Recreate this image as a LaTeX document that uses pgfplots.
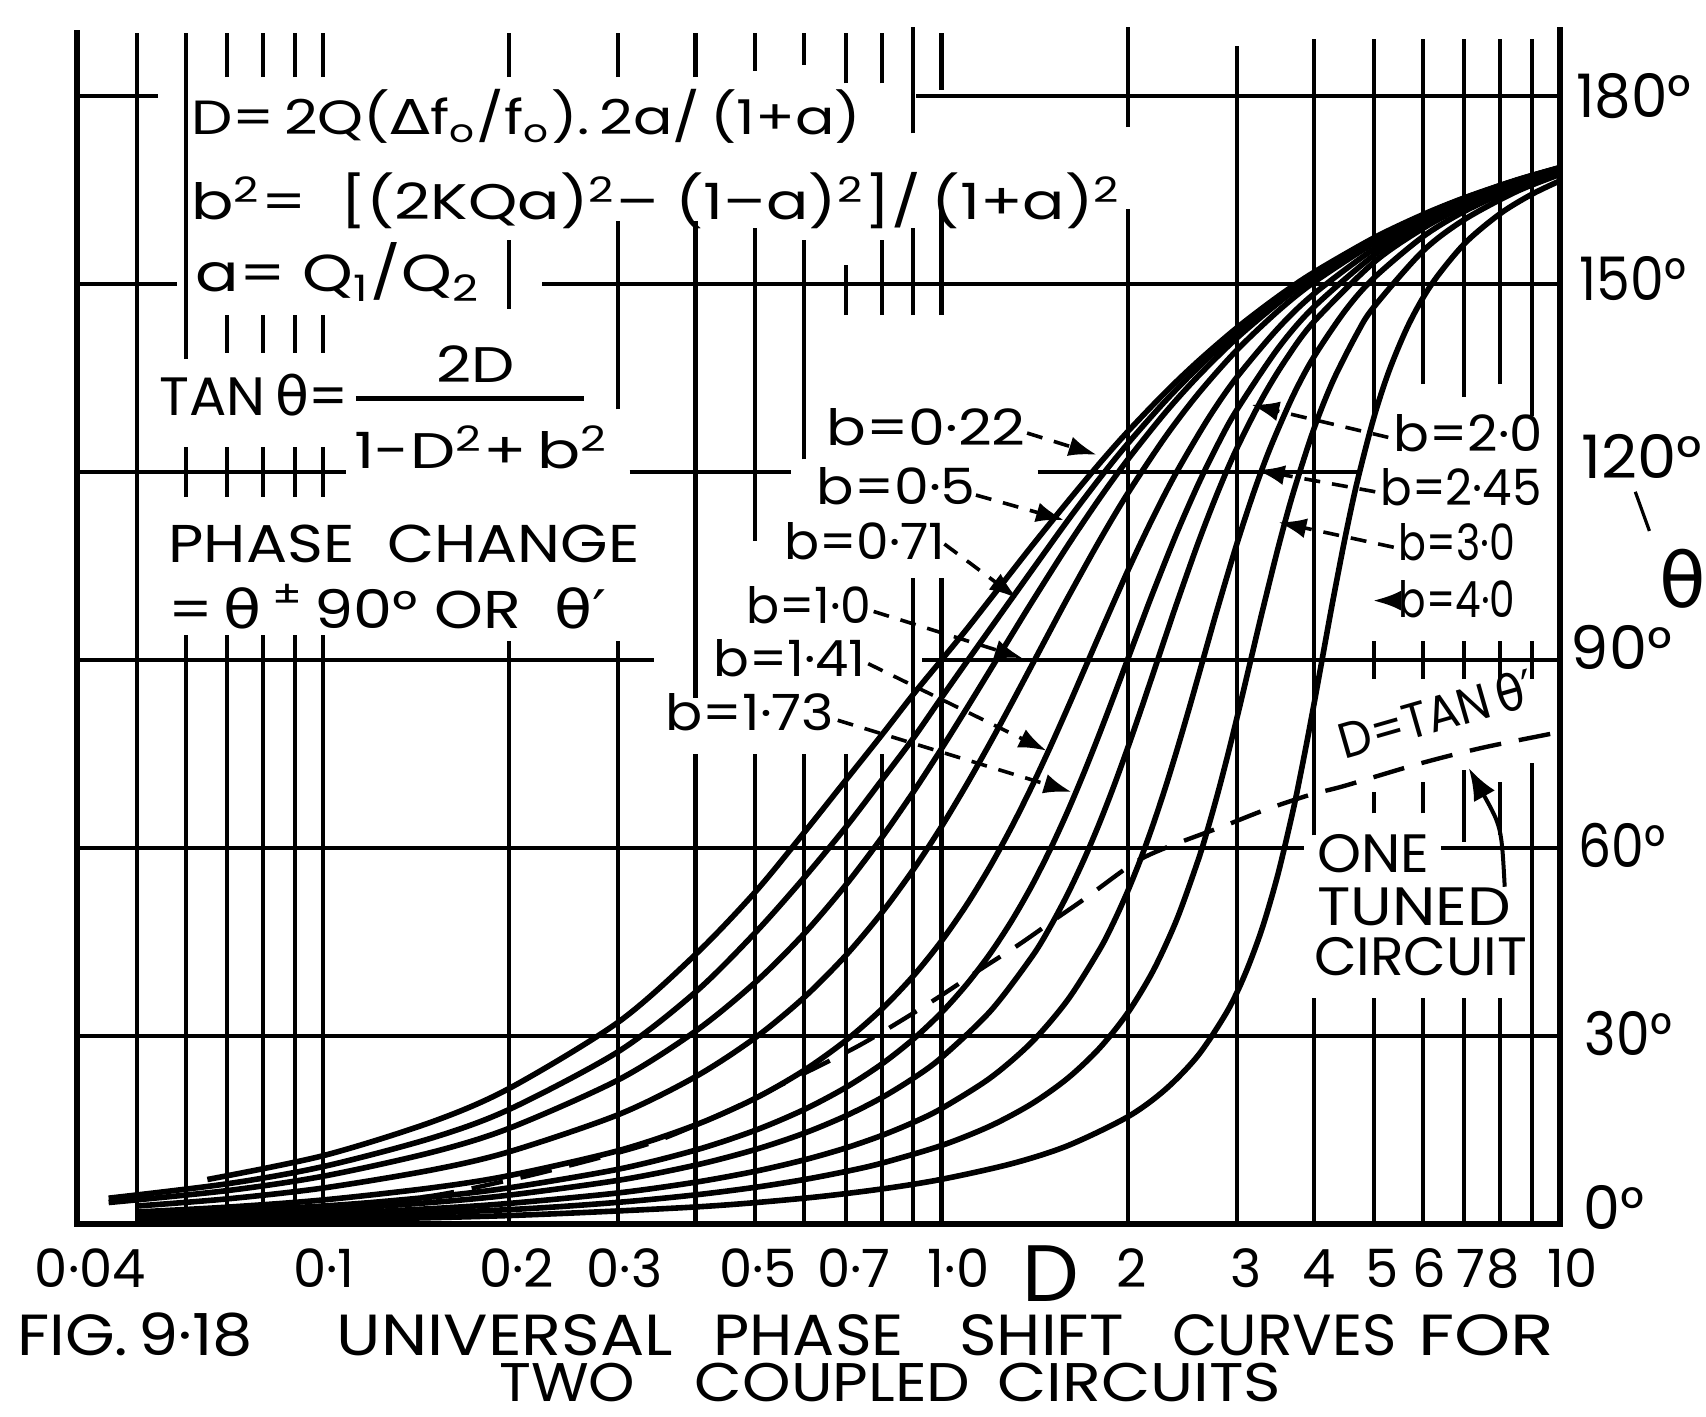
\documentclass[border=0pt]{standalone}
\usepackage{graphicx}
\usepackage{fontspec}
\setmainfont{Poppins}
\newfontfamily\gr{DejaVu Sans}
\usepackage{pgfplots}
\pgfplotsset{compat=1.18}
\usetikzlibrary{arrows.meta}

\newlength\pxu \setlength\pxu{0.272pt}
\newcommand\thet{{\gr θ}}
% text stretched to a width given in reference pixels
\newcommand\TW[6][base west]{\node[inner sep=0pt,anchor=#1] at (#2,#3) {\resizebox{#4\pxu}{\height}{\fontsize{#5}{#5}\selectfont #6}};}
% text at natural width, centred
\newcommand\TN[4]{\node[inner sep=0pt,anchor=base] at (#1,#2) {\fontsize{#3}{#3}\selectfont #4};}
% grid pieces
\newcommand\vl[3]{\draw[grd] (axis cs:#1,#2) -- (axis cs:#1,#3);}
\newcommand\hl[3]{\draw[grd] (axis cs:#2,#1) -- (axis cs:#3,#1);}

\begin{document}
\begin{tikzpicture}[
  grd/.style={line width=1.05pt},
  axl/.style={line width=1.6pt},
  cv/.style={black, line width=1.4pt, smooth, mark=none},
  px/.style={x=0.272pt, y=-0.272pt, xshift=-19.25pt, yshift=306pt},
  lead/.style={line width=0.9pt, dash pattern=on 4pt off 3pt, -{Latex[length=7pt,width=5pt]}}]

\begin{axis}[at={(0pt,0pt)}, anchor=south west, scale only axis,
  width=370.75pt, height=297.7pt, hide axis, clip=false,
  xmode=log, xmin=0.04, xmax=10, ymin=0, ymax=190]

% frame
\draw[axl] (axis cs:0.04,190.5) -- (axis cs:0.04,0) -- (axis cs:10,0) -- (axis cs:10,191);

% horizontal grid
\hl{30}{0.04}{10}
\hl{60}{0.04}{3.86} \hl{60}{6.42}{10}
\hl{90}{0.04}{0.343} \hl{90}{0.93}{10}
\hl{120}{0.04}{0.109} \hl{120}{0.313}{0.572} \hl{120}{1.43}{4.77}
\hl{150}{0.04}{0.058} \hl{150}{0.226}{10}
\hl{180}{0.04}{0.054} \hl{180}{0.91}{10}

% vertical grid
\vl{0.05}{0}{190}
\vl{0.06}{0}{94} \vl{0.06}{116}{124} \vl{0.06}{138}{190}
\vl{0.07}{0}{94} \vl{0.07}{116}{124} \vl{0.07}{139}{145} \vl{0.07}{183}{190}
\vl{0.08}{0}{94} \vl{0.08}{116}{124} \vl{0.08}{139}{145} \vl{0.08}{183}{190}
\vl{0.09}{0}{94} \vl{0.09}{116}{124} \vl{0.09}{139}{145} \vl{0.09}{183}{190}
\vl{0.1}{0}{94} \vl{0.1}{116}{124} \vl{0.1}{139}{145} \vl{0.1}{183}{190}
\vl{0.2}{0}{93} \vl{0.2}{146}{157} \vl{0.2}{183}{190}
\vl{0.3}{0}{93} \vl{0.3}{130}{160} \vl{0.3}{183}{190}
\vl{0.4}{0}{75} \vl{0.4}{84}{160} \vl{0.4}{183}{190}
\vl{0.5}{0}{75} \vl{0.5}{109}{159} \vl{0.5}{184}{190}
\vl{0.6}{0}{75} \vl{0.6}{122}{157} \vl{0.6}{185}{190}
\vl{0.7}{0}{75} \vl{0.7}{145}{153} \vl{0.7}{182}{190}
\vl{0.8}{0}{75} \vl{0.8}{145}{157} \vl{0.8}{182}{190}
\vl{0.9}{0}{103} \vl{0.9}{145}{159} \vl{0.9}{174}{191}
\vl{1}{0}{103} \vl{1}{145}{162} \vl{1}{181}{190}
\vl{2}{0}{162} \vl{2}{175}{191}
\vl{3}{0}{188}
\vl{4}{0}{36} \vl{4}{62}{189}
\vl{5}{0}{36} \vl{5}{65.5}{69} \vl{5}{87}{93} \vl{5}{129}{189}
\vl{6}{0}{36} \vl{6}{65.5}{70.5} \vl{6}{87}{93} \vl{6}{134}{189}
\vl{7}{0}{36} \vl{7}{61}{72.5} \vl{7}{87}{93} \vl{7}{132}{189}
\vl{8}{0}{36} \vl{8}{62}{70.5} \vl{8}{87}{93} \vl{8}{134}{189}
\vl{9}{0}{73.5} \vl{9}{87}{93} \vl{9}{129}{189}

% b = 0.22
\addplot[cv] coordinates {(0.065,7.10) (0.1,10.90) (0.15,16.30) (0.2,21.64) (0.3,32.2) (0.4,43.0) (0.5,53.0) (0.6,62.5) (0.7,70.8) (0.8,78.0) (0.9,84.5) (1.0,90.0) (1.1,95.0) (1.25,102.0) (1.4,108.2) (1.6,115.28) (1.8,121.33) (2.0,126.43) (2.3,132.68) (2.6,137.68) (3.0,142.96) (3.5,147.99) (4.0,151.85) (5.0,157.34) (6.0,161.05) (7.0,163.72) (8.5,166.57) (10,168.57)};
% b = 0.5
\addplot[cv] coordinates {(0.045,4.12) (0.07,6.42) (0.1,9.16) (0.15,13.73) (0.2,18.29) (0.3,27.5) (0.4,37.0) (0.5,46.5) (0.6,55.3) (0.7,63.3) (0.8,70.8) (0.9,77.5) (1.0,84.0) (1.1,89.8) (1.25,97.5) (1.4,104.3) (1.6,112.26) (1.8,118.93) (2.0,124.51) (2.3,131.30) (2.6,136.66) (3.0,142.25) (3.5,147.53) (4.0,151.53) (5.0,157.17) (6.0,160.95) (7.0,163.66) (8.5,166.53) (10,168.55)};
% b = 0.71
\addplot[cv] coordinates {(0.045,3.43) (0.07,5.33) (0.1,7.62) (0.15,11.45) (0.2,15.28) (0.3,22.99) (0.4,30.76) (0.5,38.57) (0.6,46.36) (0.7,54.08) (0.8,61.63) (0.9,68.91) (1.0,75.85) (1.1,82.39) (1.2,88.47) (1.3,94.09) (1.4,99.25) (1.6,108.26) (1.8,115.74) (2.0,121.96) (2.3,129.46) (2.6,135.30) (3.0,141.33) (3.5,146.92) (4.0,151.11) (5.0,156.94) (6.0,160.82) (7.0,163.58) (8.5,166.49) (10,168.52)};
% b = 1.0
\addplot[cv] coordinates {(0.05,2.87) (0.07,4.01) (0.1,5.74) (0.15,8.63) (0.2,11.53) (0.3,17.44) (0.4,23.50) (0.5,29.74) (0.6,36.19) (0.7,42.84) (0.8,49.64) (0.9,56.53) (1.0,63.43) (1.1,70.25) (1.2,76.87) (1.3,83.20) (1.4,89.18) (1.5,94.76) (1.6,99.93) (1.8,109.01) (2.0,116.57) (2.3,125.57) (2.6,132.47) (3.0,139.40) (3.5,145.67) (4.0,150.26) (5.0,156.50) (6.0,160.56) (7.0,163.41) (8.5,166.40) (10,168.47)};
% b = 1.41
\addplot[cv] coordinates {(0.05,1.92) (0.07,2.69) (0.1,3.84) (0.15,5.78) (0.2,7.73) (0.3,11.70) (0.4,15.80) (0.5,20.06) (0.6,24.54) (0.7,29.27) (0.8,34.27) (0.9,39.57) (1.0,45.17) (1.1,51.05) (1.2,57.17) (1.3,63.47) (1.4,69.84) (1.5,76.18) (1.6,82.38) (1.7,88.35) (1.8,94.00) (2.0,104.20) (2.2,112.82) (2.4,120.00) (2.7,128.54) (3.0,135.06) (3.5,142.91) (4.0,148.41) (5.0,155.57) (6.0,160.02) (7.0,163.08) (8.5,166.21) (10,168.35)};
% b = 1.73
\addplot[cv] coordinates {(0.05,1.43) (0.1,2.87) (0.15,4.32) (0.2,5.78) (0.3,8.74) (0.4,11.79) (0.5,14.96) (0.6,18.28) (0.7,21.78) (0.8,25.51) (0.9,29.49) (1.0,33.75) (1.1,38.33) (1.2,43.23) (1.3,48.47) (1.4,54.01) (1.5,59.85) (1.6,65.88) (1.7,72.03) (1.8,78.19) (1.9,84.25) (2.0,90.10) (2.1,95.67) (2.2,100.90) (2.4,110.21) (2.6,118.02) (2.8,124.49) (3.0,129.85) (3.5,139.71) (4.0,146.32) (5.0,154.55) (6.0,159.45) (7.0,162.72) (8.5,166.01) (10,168.23)};
% b = 2.0
\addplot[cv] coordinates {(0.05,1.15) (0.1,2.30) (0.15,3.45) (0.2,4.61) (0.3,6.97) (0.4,9.39) (0.5,11.89) (0.6,14.50) (0.7,17.25) (0.8,20.15) (0.9,23.25) (1.0,26.57) (1.2,33.99) (1.4,42.65) (1.5,47.49) (1.6,52.68) (1.7,58.18) (1.8,63.95) (1.9,69.91) (2.0,75.96) (2.1,82.00) (2.2,87.92) (2.3,93.61) (2.4,99.00) (2.6,108.70) (2.8,116.89) (3.0,123.69) (3.3,131.74) (3.6,137.87) (4.0,143.97) (5.0,153.43) (6.0,158.84) (7.0,162.35) (8.5,165.81) (10,168.11)};
% b = 2.45
\addplot[cv] coordinates {(0.05,0.82) (0.1,1.64) (0.15,2.46) (0.2,3.29) (0.3,4.96) (0.4,6.67) (0.5,8.42) (0.6,10.24) (0.7,12.13) (0.8,14.12) (0.9,16.21) (1.0,18.43) (1.2,23.34) (1.4,29.04) (1.6,35.77) (1.8,43.74) (1.9,48.24) (2.0,53.11) (2.1,58.31) (2.2,63.83) (2.3,69.58) (2.4,75.49) (2.5,81.44) (2.6,87.33) (2.7,93.05) (2.8,98.51) (3.0,108.41) (3.2,116.83) (3.4,123.83) (3.7,132.12) (4.0,138.36) (4.5,145.81) (5.0,150.94) (6.0,157.52) (7.0,161.56) (8.5,165.40) (10,167.86)};
% b = 3.0
\addplot[cv] coordinates {(0.05,0.57) (0.1,1.15) (0.2,2.30) (0.3,3.46) (0.4,4.65) (0.5,5.86) (0.6,7.10) (0.7,8.38) (0.8,9.70) (1.0,12.53) (1.2,15.66) (1.4,19.20) (1.6,23.27) (1.8,28.04) (2.0,33.69) (2.2,40.45) (2.4,48.55) (2.6,58.07) (2.7,63.35) (2.8,68.91) (2.9,74.67) (3.0,80.54) (3.1,86.40) (3.2,92.15) (3.3,97.68) (3.5,107.82) (3.7,116.50) (4.0,126.87) (4.3,134.63) (4.7,142.14) (5.0,146.31) (6.0,155.22) (7.0,160.25) (8.5,164.73) (10,167.47)};
% b = 4.0
\addplot[cv] coordinates {(0.05,0.34) (0.1,0.67) (0.2,1.35) (0.4,2.72) (0.6,4.12) (0.8,5.59) (1.0,7.13) (1.3,9.64) (1.6,12.50) (2.0,17.10) (2.3,21.45) (2.6,26.92) (2.9,34.02) (3.1,40.00) (3.3,47.20) (3.5,55.84) (3.7,65.90) (3.8,71.38) (3.9,77.07) (4.0,82.87) (4.1,88.67) (4.2,94.36) (4.3,99.83) (4.5,109.86) (4.7,118.44) (5.0,128.66) (5.3,136.30) (5.7,143.65) (6.2,149.95) (7.0,156.37) (8.0,161.20) (9.0,164.29) (10,166.45)};
% one tuned circuit, D = tan theta (dashed)
\addplot[black, line width=1.1pt, smooth, mark=none, dash pattern=on 8pt off 4.5pt] coordinates {(0.1,2.5) (0.15,4.5) (0.2,7) (0.243,9) (0.341,13) (0.45,18) (0.558,22.5) (0.727,28.2) (0.862,32.5) (1.0,36.5) (1.15,40.5) (1.33,44.5) (1.52,48.5) (1.71,52) (2.04,57.5) (2.3,60) (2.86,63.5) (3.34,66.1) (3.95,68.5) (4.48,69.9) (5.9,73.4) (7.5,76) (10,78.5)};
\end{axis}

\begin{scope}[px]
% formulae
\TW{175}{124}{616}{12}{D=\,2Q({\gr Δ}f\textsubscript{o}/f\textsubscript{o}).\,2a/\,(1+a)}
\TW{175}{202}{855}{12.5}{b\textsuperscript{2}=\ \ [(2KQa)\textsuperscript{2}–\ (1–a)\textsuperscript{2}]/\,(1+a)\textsuperscript{2}}
\TW{179}{268}{262}{13}{a= Q\textsubscript{1}/Q\textsubscript{2}}
\TW{146}{382}{174}{13.5}{TAN\,\thet=}
\draw[line width=1.3pt] (327,366) -- (537,366);
\TW{400}{352}{72}{12.5}{2D}
\TW{325}{431}{234}{12.5}{1-D\textsuperscript{2}+\,b\textsuperscript{2}}
\TW{154}{517}{433}{13.3}{PHASE\ \ CHANGE}
\TW{154}{578}{403}{13.3}{=\,\thet\,\textsuperscript{±}\,90°\ OR\ \ \thet{\gr ′}}
% curve labels
\TW{759}{409}{183}{12.5}{b=0·22}
\TW{750}{464}{146}{12.5}{b=0·5}
\TW{720}{514}{148}{12.5}{b=0·71}
\TW{685}{573}{115}{12.5}{b=1·0}
\TW{655}{622}{140}{12.5}{b=1·41}
\TW{611}{671}{155}{12.5}{b=1·73}
\TW{1280}{415}{137}{12.5}{b=2·0}
\TW{1268}{465}{148}{12.5}{b=2·45}
\TW{1285}{515}{107}{12.5}{b=3·0}
\TW{1285}{568}{107}{12.5}{b=4·0}
\draw[lead] (944,398) -- (1008,418);
\draw[lead] (897,455) -- (978,478);
\draw[lead] (868,500) -- (935,550);
\draw[lead] (803,562) -- (940,605);
\draw[lead] (798,610) -- (962,690);
\draw[lead] (770,662) -- (985,728);
\draw[lead] (1276,402) -- (1150,372);
\draw[lead] (1264,452) -- (1155,432);
\draw[lead] (1281,503) -- (1175,480);
\draw[lead] (1283,552) -- (1262,552);
% one tuned circuit
\node[inner sep=0pt, anchor=base west, rotate=16] at (1235,698) {\resizebox{186\pxu}{\height}{\fontsize{12.5}{12.5}\selectfont D=TAN\,\thet{\gr ′}}};
\TW{1210}{802}{103}{13.5}{ONE}
\TW{1210}{851}{178}{13.5}{TUNED}
\TW{1207}{897}{196}{13.5}{CIRCUIT}
\draw[line width=1pt, -{Latex[length=8pt,width=6pt]}] (1383,815) .. controls (1380,760) .. (1350,706);
% angle labels
\TW{1448}{108}{106}{15}{180°}
\TW{1451}{276}{98}{15}{150°}
\TW{1453}{440}{111}{15}{120°}
\TW{1443}{615}{93}{15}{90°}
\TW{1450}{797}{80}{15}{60°}
\TW{1456}{970}{80}{15}{30°}
\TW{1455}{1130}{56}{15}{0°}
\node[inner sep=0pt] at (1547,532) {\fontsize{19}{19}\selectfont\thet};
\draw[line width=0.8pt] (1503,452) -- (1516,488);
% D scale
\TN{83}{1183}{13.2}{0·04}
\TN{298}{1183}{13.2}{0·1}
\TN{475}{1183}{13.2}{0·2}
\TN{574}{1183}{13.2}{0·3}
\TN{697}{1183}{13.2}{0·5}
\TN{785}{1183}{13.2}{0·7}
\TN{881}{1183}{13.2}{1·0}
\TN{966}{1196}{20}{D}
\TN{1040}{1183}{13.2}{2}
\TN{1145}{1183}{13.2}{3}
\TN{1212}{1183}{13.2}{4}
\TN{1270}{1183}{13.2}{5}
\TN{1314}{1183}{13.2}{6}
\TN{1352}{1183}{13.2}{7}
\TN{1382}{1183}{13.2}{8}
\TN{1445}{1183}{13.2}{10}
% caption
\TW{15}{1246}{217}{14.5}{FIG.\,9·18}
\TW{309}{1246}{309}{14.5}{UNIVERSAL}
\TW{655}{1246}{175}{14.5}{PHASE}
\TW{881}{1246}{151}{14.5}{SHIFT}
\TW{1077}{1246}{206}{14.5}{CURVES}
\TW{1303}{1246}{125}{14.5}{FOR}
\TW{458}{1288}{125}{13.6}{TWO}
\TW{638}{1288}{253}{13.6}{COUPLED}
\TW{916}{1288}{261}{13.6}{CIRCUITS}
\end{scope}

\pgfresetboundingbox
\begin{scope}[px]
\path[use as bounding box] (0,0) rectangle (1568,1302);
\end{scope}
\end{tikzpicture}
\end{document}
